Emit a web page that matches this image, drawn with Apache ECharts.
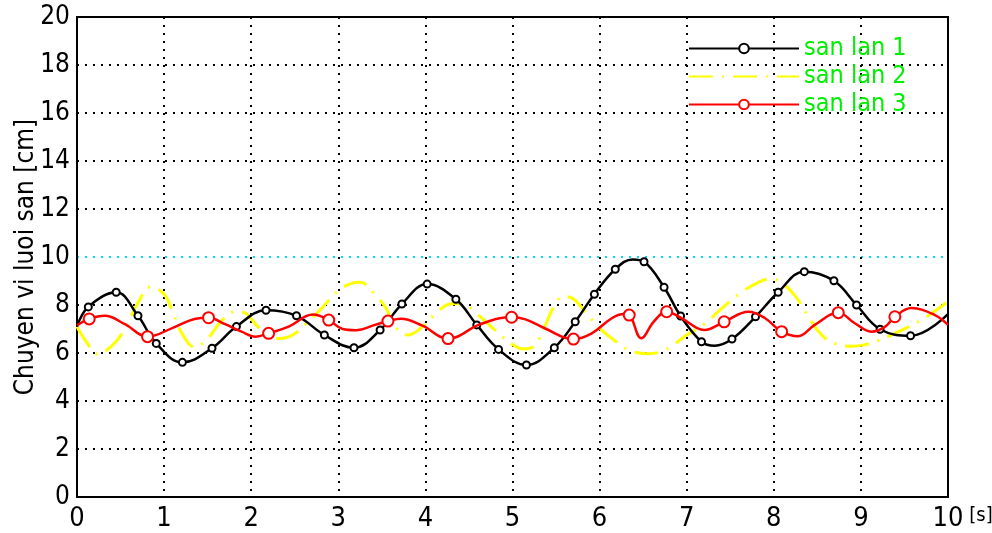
<!DOCTYPE html>
<html>
<head>
<meta charset="utf-8">
<title>Chuyen vi luoi san</title>
<script src="https://cdn.jsdelivr.net/npm/echarts@6/dist/echarts.min.js"></script>
<style>
	html,body{margin:0;padding:0;background:#fff;}
	#chart{width:992px;height:533px;}
</style>
</head>
<body>
<div id="chart"></div>
<script>
	// ten cac lan san
	var seriesNames = ['san lan 1', 'san lan 2', 'san lan 3'];

	// truc
	var xTicks = [0, 1, 2, 3, 4, 5, 6, 7, 8, 9, 10];
	var yTicks = [0, 2, 4, 6, 8, 10, 12, 14, 16, 18, 20];

	// [t, chuyen vi, co marker]
	var lan1 = [
		[0, 7.1, 0], [0.13, 7.92, 1], [0.45, 8.53, 1], [0.70, 7.55, 1], [0.91, 6.40, 1],
		[1.21, 5.61, 1], [1.55, 6.20, 1], [1.83, 7.10, 1], [2.17, 7.78, 1], [2.52, 7.55, 1],
		[2.84, 6.75, 1], [3.18, 6.22, 1], [3.48, 6.96, 1], [3.73, 8.04, 1], [4.02, 8.87, 1],
		[4.35, 8.24, 1], [4.59, 7.17, 1], [4.84, 6.15, 1], [5.16, 5.50, 1], [5.48, 6.22, 1],
		[5.72, 7.30, 1], [5.94, 8.45, 1], [6.18, 9.49, 1], [6.38, 9.90, 0], [6.51, 9.80, 1],
		[6.74, 8.74, 1], [6.93, 7.54, 1], [7.17, 6.47, 1], [7.32, 6.30, 0], [7.52, 6.58, 1],
		[7.79, 7.51, 1], [8.05, 8.53, 1], [8.35, 9.39, 1], [8.69, 9.01, 1], [8.95, 8.00, 1],
		[9.22, 6.99, 1], [9.57, 6.72, 1], [10, 7.62, 0]
	];

	var lan2 = [
		[0, 7.1], [0.1, 6.5], [0.24, 5.95], [0.4, 6.3], [0.55, 7.0], [0.7, 8.1], [0.85, 8.75],
		[1.0, 8.45], [1.1, 7.7], [1.2, 6.85], [1.35, 6.25], [1.5, 6.6], [1.65, 7.3], [1.82, 7.72],
		[1.92, 7.68], [2.05, 7.2], [2.15, 6.85], [2.3, 6.6], [2.45, 6.7], [2.64, 7.25], [2.83, 7.95],
		[3.0, 8.6], [3.15, 8.9], [3.25, 8.95], [3.44, 8.35], [3.55, 7.85], [3.65, 7.1], [3.8, 6.75],
		[3.95, 7.05], [4.15, 7.75], [4.3, 8.05], [4.42, 8.05], [4.6, 7.6], [4.8, 6.95], [5.0, 6.35],
		[5.12, 6.17], [5.25, 6.3], [5.37, 7.1], [5.47, 7.9], [5.58, 8.35], [5.7, 8.25], [5.87, 7.55],
		[6.04, 6.9], [6.2, 6.45], [6.35, 6.1], [6.55, 5.97], [6.7, 6.05], [6.85, 6.35], [7.0, 6.75],
		[7.2, 7.2], [7.4, 7.85], [7.6, 8.45], [7.8, 8.9], [7.95, 9.08], [8.08, 8.95], [8.25, 8.35],
		[8.4, 7.5], [8.55, 6.75], [8.7, 6.4], [8.9, 6.28], [9.05, 6.35], [9.2, 6.52], [9.35, 6.75],
		[9.55, 7.1], [9.75, 7.5], [10, 8.15]
	];

	var lan3 = [
		[0, 7.15, 0], [0.14, 7.42, 1], [0.32, 7.55, 0], [0.55, 7.2, 0], [0.81, 6.68, 1],
		[1.1, 7.05, 0], [1.35, 7.42, 0], [1.51, 7.47, 1], [1.7, 7.2, 0], [1.89, 6.89, 0],
		[2.05, 6.68, 0], [2.2, 6.82, 1], [2.43, 7.1, 0], [2.71, 7.6, 0], [2.89, 7.37, 1],
		[3.05, 7.0, 0], [3.2, 6.95, 0], [3.42, 7.17, 0], [3.57, 7.33, 1], [3.72, 7.43, 0],
		[3.96, 7.15, 0], [4.26, 6.6, 1], [4.61, 7.17, 0], [4.85, 7.45, 0], [4.99, 7.49, 1],
		[5.15, 7.4, 0], [5.37, 7.03, 0], [5.7, 6.58, 1], [5.91, 6.82, 0], [6.14, 7.45, 0],
		[6.28, 7.62, 0], [6.34, 7.58, 1], [6.48, 6.61, 0], [6.62, 7.3, 0], [6.77, 7.72, 1],
		[6.94, 7.45, 0], [7.2, 6.96, 0], [7.43, 7.3, 1], [7.71, 7.72, 0], [7.9, 7.45, 0],
		[8.09, 6.89, 1], [8.28, 6.7, 0], [8.47, 7.17, 0], [8.74, 7.68, 1], [8.93, 7.24, 0],
		[9.12, 6.89, 0], [9.28, 7.1, 0], [9.39, 7.51, 1], [9.58, 7.87, 0], [9.85, 7.58, 0],
		[10, 7.17, 0]
	];

	var FONT = '"DejaVu Sans Condensed", "Liberation Sans Narrow", sans-serif';

	/**
	 * chuyen [t, y, marker] sang data cua echarts
	 */
	var toData = function(arr){
		var result = [];
		for(var i = 0, j = arr.length; i < j; i++){
			var item = {value: [arr[i][0], arr[i][1]]};
			if(arr[i].length > 2 && !arr[i][2]) item.symbol = 'none';
			result.push(item);
		}
		return result;
	}

	// mau duong luoi ngang, duong 10 mau cyan
	var gridColors = yTicks.map(function(v){ return v === 10 ? '#00e0e0' : '#000'; });

	var myChart = echarts.init(document.getElementById('chart'));
	myChart.setOption({
		animation: false,
		backgroundColor: '#fff',
		grid: {
			left: 77, right: 44, top: 17, bottom: 36,
			outerBoundsMode: 'none',
			show: true, borderColor: '#000', borderWidth: 2
		},
		legend: {
			orient: 'vertical',
			left: 683, top: 31,
			itemWidth: 110, itemHeight: 12,
			itemGap: 3,
			data: seriesNames,
			textStyle: {color: '#00ee00', fontSize: 25, fontFamily: FONT}
		},
		xAxis: {
			type: 'value',
			min: xTicks[0], max: xTicks[xTicks.length - 1], interval: 1,
			name: '[s]', nameLocation: 'end', nameGap: 6,
			nameTextStyle: {color: '#000', fontSize: 20, fontFamily: FONT, verticalAlign: 'top', padding: [9, 0, 0, 0]},
			axisLine: {show: true, lineStyle: {color: '#000', width: 2}},
			axisTick: {show: false},
			axisLabel: {color: '#000', fontSize: 27, fontFamily: FONT, margin: 8},
			splitLine: {show: true, lineStyle: {color: '#000', width: 2, type: [2, 6]}}
		},
		yAxis: {
			type: 'value',
			min: yTicks[0], max: yTicks[yTicks.length - 1], interval: 2,
			name: 'Chuyen vi luoi san [cm]', nameLocation: 'middle', nameRotate: 90, nameGap: 38,
			nameMoveOverlap: false,
			nameTextStyle: {color: '#000', fontSize: 26, fontFamily: FONT},
			axisLine: {show: true, lineStyle: {color: '#000', width: 2}},
			axisTick: {show: false},
			axisLabel: {color: '#000', fontSize: 26, fontFamily: FONT, margin: 7},
			splitLine: {show: true, lineStyle: {color: gridColors, width: 2, type: [2, 6]}}
		},
		series: [{
			name: seriesNames[0],
			type: 'line',
			smooth: 0.4,
			data: toData(lan1),
			symbol: 'circle', symbolSize: 7,
			itemStyle: {color: '#fff', borderColor: '#000', borderWidth: 2},
			lineStyle: {color: '#000', width: 2.5},
			z: 3
		},{
			name: seriesNames[1],
			type: 'line',
			smooth: 0.4,
			data: toData(lan2),
			symbol: 'none',
			itemStyle: {color: 'rgba(0,0,0,0)', borderColor: 'rgba(0,0,0,0)'},
			lineStyle: {color: '#ffff00', width: 3, type: [24, 9, 2, 9]},
			z: 2
		},{
			name: seriesNames[2],
			type: 'line',
			smooth: 0.4,
			data: toData(lan3),
			symbol: 'circle', symbolSize: 11,
			itemStyle: {color: '#fff', borderColor: '#ff0000', borderWidth: 2},
			lineStyle: {color: '#ff0000', width: 2.5},
			z: 4
		}]
	});
</script>
</body>
</html>
